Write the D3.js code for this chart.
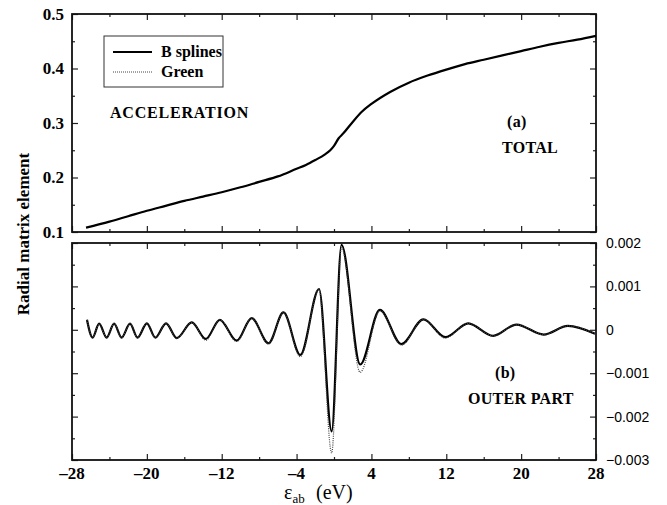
<!DOCTYPE html>
<html>
<head>
<meta charset="utf-8">
<script src="https://cdn.jsdelivr.net/npm/d3@7"></script>
<style>
  body { margin: 0; background: #fff; }
  svg { display: block; }
</style>
</head>
<body>
<svg id="chart" width="667" height="505"></svg>
<script>
// ---- data ----
const xMajorTicks = [-28, -20, -12, -4, 4, 12, 20, 28];
const xMinorTicks = [-24, -16, -8, 0, 8, 16, 24];
const topMajorTicks = [0.1, 0.2, 0.3, 0.4, 0.5];
const topMinorTicks = [0.15, 0.25, 0.35, 0.45];
const botMajorTicks = [-0.003, -0.002, -0.001, 0, 0.001, 0.002];
const botMinorTicks = [-0.0025, -0.0015, -0.0005, 0.0005, 0.0015];
const botTickLabels = ["\u22120.003", "\u22120.002", "\u22120.001", "0", "0.001", "0.002"];

// (a) TOTAL
const totalEnergy = [-26.5, -24, -22, -20, -18, -16, -14, -12, -10, -8, -6, -4, -3, -2, -1, -0.4, 0, 0.5, 1, 2, 3, 4, 6, 8, 10, 12, 14, 16, 18, 20, 22, 24, 26, 28];
const totalBsplines = [0.108, 0.119, 0.129, 0.139, 0.148, 0.157, 0.165, 0.173, 0.182, 0.192, 0.202, 0.216, 0.223, 0.232, 0.242, 0.250, 0.258, 0.272, 0.281, 0.302, 0.321, 0.335, 0.357, 0.374, 0.387, 0.398, 0.408, 0.416, 0.424, 0.432, 0.440, 0.447, 0.453, 0.460];
const totalGreen = [0.108, 0.119, 0.129, 0.139, 0.148, 0.157, 0.165, 0.173, 0.182, 0.192, 0.202, 0.216, 0.223, 0.232, 0.242, 0.250, 0.258, 0.272, 0.281, 0.302, 0.321, 0.335, 0.357, 0.374, 0.387, 0.398, 0.408, 0.416, 0.424, 0.432, 0.440, 0.447, 0.453, 0.460];

// (b) OUTER PART, values in units of 1e-3
const outerEnergy = [-26.4, -25.8, -25.1, -24.3, -23.5, -22.7, -21.8, -21.0, -20.0, -19.1, -17.95, -16.8, -15.2, -13.7, -12.2, -10.4, -8.8, -7.0, -5.4, -3.6, -1.6, -0.25, 0.8, 2.8, 4.9, 7.2, 9.55, 11.9, 14.35, 17.0, 19.5, 22.4, 25.0, 27.9];
const outerBsplines = [0.23, -0.18, 0.14, -0.18, 0.14, -0.18, 0.14, -0.18, 0.15, -0.18, 0.15, -0.19, 0.17, -0.21, 0.23, -0.25, 0.27, -0.31, 0.40, -0.58, 0.94, -2.34, 1.96, -0.80, 0.46, -0.33, 0.24, -0.17, 0.15, -0.14, 0.12, -0.11, 0.09, -0.09];
const outerGreen = [0.23, -0.18, 0.14, -0.18, 0.14, -0.18, 0.14, -0.18, 0.15, -0.18, 0.15, -0.19, 0.17, -0.24, 0.23, -0.27, 0.27, -0.32, 0.40, -0.62, 0.93, -2.84, 1.90, -0.98, 0.44, -0.35, 0.24, -0.19, 0.15, -0.14, 0.12, -0.11, 0.09, -0.09];

const svg = d3.select("#chart");
const serif = "'Liberation Serif', 'Times New Roman', serif";
const sans = "'Liberation Sans', Arial, sans-serif";

const x = d3.scaleLinear().domain([-28, 28]).range([72, 596]);
const yTop = d3.scaleLinear().domain([0.1, 0.5]).range([232, 14]);
const yBot = d3.scaleLinear().domain([-0.003, 0.002]).range([460, 243]);

// draws inward ticks on all four sides of one panel
function panelFrame(yScale, yMajor, yMinor) {
  const y0 = yScale.range()[0], y1 = yScale.range()[1];
  const g = svg.append("g").attr("class", "frame");

  const sides = [
    [d3.axisBottom(x), "translate(0," + y0 + ")", xMajorTicks, xMinorTicks],
    [d3.axisTop(x), "translate(0," + y1 + ")", xMajorTicks, xMinorTicks],
    [d3.axisLeft(yScale), "translate(72,0)", yMajor, yMinor],
    [d3.axisRight(yScale), "translate(596,0)", yMajor, yMinor]
  ];
  sides.forEach(function(s) {
    g.append("g").attr("transform", s[1])
      .call(s[0].tickValues(s[2]).tickSizeInner(-6).tickSizeOuter(0).tickFormat(""));
    g.append("g").attr("transform", s[1])
      .call(s[0].tickValues(s[3]).tickSizeInner(-3).tickSizeOuter(0).tickFormat(""));
  });
  g.selectAll(".domain").remove();
  g.selectAll(".tick line").attr("stroke", "#222").attr("stroke-width", 1.2);

  g.append("rect")
    .attr("x", 72).attr("y", y1)
    .attr("width", 596 - 72).attr("height", y0 - y1)
    .attr("fill", "none").attr("stroke", "#111").attr("stroke-width", 1.8);
}

panelFrame(yTop, topMajorTicks, topMinorTicks);
panelFrame(yBot, botMajorTicks, botMinorTicks);

// left labels (top panel)
svg.append("g").selectAll("text")
  .data(topMajorTicks).enter().append("text")
  .attr("x", 64).attr("y", d => yTop(d)).attr("dy", "0.35em")
  .attr("text-anchor", "end")
  .attr("font-family", serif).attr("font-weight", 700).attr("font-size", 17)
  .text(d => d.toFixed(1));

// right labels (bottom panel)
svg.append("g").selectAll("text")
  .data(botMajorTicks).enter().append("text")
  .attr("x", 606).attr("y", d => yBot(d)).attr("dy", "0.35em")
  .attr("font-family", sans).attr("font-size", 14)
  .text((d, i) => botTickLabels[i]);

// x tick labels
svg.append("g").selectAll("text")
  .data(xMajorTicks).enter().append("text")
  .attr("x", d => x(d)).attr("y", 479)
  .attr("text-anchor", "middle")
  .attr("font-family", serif).attr("font-weight", 700).attr("font-size", 17)
  .text(d => (d < 0 ? "\u2013" + Math.abs(d) : d));

// curves
const topLine = d3.line().x(d => x(d[0])).y(d => yTop(d[1])).curve(d3.curveMonotoneX);
const botLine = d3.line().x(d => x(d[0])).y(d => yBot(d[1] / 1000)).curve(d3.curveMonotoneX);

svg.append("path")
  .datum(totalEnergy.map((e, i) => [e, totalGreen[i]]))
  .attr("d", topLine).attr("fill", "none")
  .attr("stroke", "#555").attr("stroke-width", 1).attr("stroke-dasharray", "1,1.5");
svg.append("path")
  .datum(totalEnergy.map((e, i) => [e, totalBsplines[i]]))
  .attr("d", topLine).attr("fill", "none")
  .attr("stroke", "#000").attr("stroke-width", 2.2);

svg.append("path")
  .datum(outerEnergy.map((e, i) => [e, outerBsplines[i]]))
  .attr("d", botLine).attr("fill", "none")
  .attr("stroke", "#000").attr("stroke-width", 2.2);
svg.append("path")
  .datum(outerEnergy.map((e, i) => [e, outerGreen[i]]))
  .attr("d", botLine).attr("fill", "none")
  .attr("stroke", "#444").attr("stroke-width", 1.2).attr("stroke-dasharray", "1,1.2");

// legend
const legend = svg.append("g");
legend.append("rect")
  .attr("x", 104).attr("y", 36).attr("width", 119).attr("height", 51)
  .attr("fill", "#fff").attr("stroke", "#333").attr("stroke-width", 1);
legend.append("line")
  .attr("x1", 113).attr("x2", 152).attr("y1", 52).attr("y2", 52)
  .attr("stroke", "#000").attr("stroke-width", 2);
legend.append("line")
  .attr("x1", 113).attr("x2", 152).attr("y1", 72).attr("y2", 72)
  .attr("stroke", "#444").attr("stroke-width", 1).attr("stroke-dasharray", "1,1");
legend.append("text").attr("x", 161).attr("y", 57)
  .attr("font-family", serif).attr("font-weight", 700).attr("font-size", 16)
  .text("B splines");
legend.append("text").attr("x", 161).attr("y", 77)
  .attr("font-family", serif).attr("font-weight", 700).attr("font-size", 16)
  .text("Green");

// panel annotations
const notes = [
  ["ACCELERATION", 110, 118],
  ["(a)", 507, 127],
  ["TOTAL", 502, 153],
  ["(b)", 495, 378],
  ["OUTER PART", 468, 404]
];
svg.append("g").selectAll("text")
  .data(notes).enter().append("text")
  .attr("x", d => d[1]).attr("y", d => d[2])
  .attr("font-family", serif).attr("font-weight", 700).attr("font-size", 16)
  .attr("letter-spacing", d => d[0] === "ACCELERATION" ? 0.8 : 0.3)
  .text(d => d[0]);

// Y label
svg.append("text")
  .attr("transform", "translate(29,234) rotate(-90)")
  .attr("text-anchor", "middle")
  .attr("font-family", serif).attr("font-weight", 700).attr("font-size", 17)
  .text("Radial matrix element");

// X label
const xlab = svg.append("text")
  .attr("x", 284).attr("y", 499)
  .attr("font-family", serif).attr("font-size", 20);
xlab.append("tspan").text("\u03b5");
xlab.append("tspan").attr("dy", 4).attr("font-size", 13).text("ab");
xlab.append("tspan").attr("x", 316).attr("dy", -4).text("(eV)");
</script>
</body>
</html>
